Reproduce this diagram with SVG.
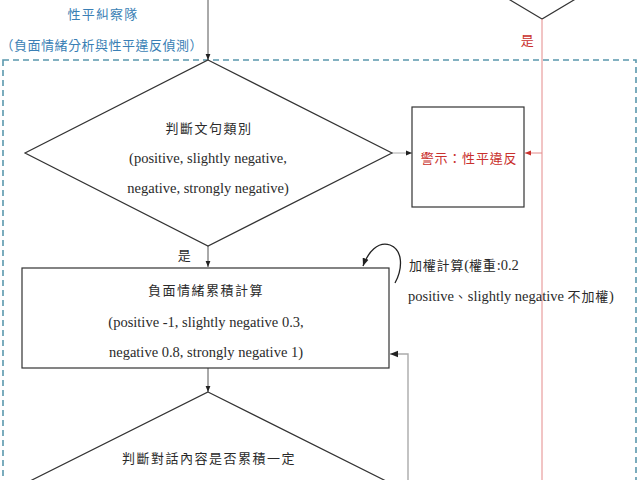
<svg xmlns="http://www.w3.org/2000/svg" width="640" height="480" viewBox="0 0 640 480">
<defs>
<style>
.t{font-family:"Liberation Serif","Noto Sans CJK TC",serif;fill:#2a2a2a;font-size:14.5px}
.c{font-family:"Liberation Serif","Noto Sans CJK TC",serif;fill:#2a2a2a;font-size:13px;letter-spacing:1.5px}
.blue{fill:#3a7fb5}
.red{fill:#c9302c}
.shape{fill:#fff;stroke:#333;stroke-width:1.2}
.conn{fill:none;stroke:#555;stroke-width:1}
</style>
<marker id="ah" viewBox="0 0 10 10" refX="10" refY="5" markerWidth="6" markerHeight="6" orient="auto"><path d="M0,1 L10,5 L0,9 z" fill="#222"/></marker>
<marker id="ahr" viewBox="0 0 10 10" refX="10" refY="5" markerWidth="6" markerHeight="6" orient="auto"><path d="M0,1 L10,5 L0,9 z" fill="#c9302c"/></marker>
</defs>
<rect x="0" y="0" width="640" height="480" fill="#fff"/>

<g id="title">
<text class="c blue" x="103" y="19" text-anchor="middle" style="letter-spacing:1.2px">性平糾察隊</text>
<text class="c blue" x="0.5" y="50" style="letter-spacing:0.5px">（負面情緒分析與性平違反偵測）</text>
</g>

<g id="container">
<rect x="3" y="60" width="633" height="440" fill="none" stroke="#5a98ad" stroke-width="1.6" stroke-dasharray="6,4"/>
</g>

<g id="decision-top">
<polygon class="shape" points="542,19 490,-12 594,-12 "/>
</g>

<g id="connectors">
<line class="conn" x1="208" y1="0" x2="208" y2="60" marker-end="url(#ah)"/>
<line x1="542" y1="19" x2="542" y2="480" stroke="#e48a8a" stroke-width="1"/>
<line x1="542" y1="153" x2="525" y2="153" stroke="#e48a8a" stroke-width="1" marker-end="url(#ahr)"/>
<line x1="392" y1="153" x2="412" y2="153" stroke="#aaa" stroke-width="1" marker-end="url(#ah)"/>
<line class="conn" x1="208" y1="246" x2="208" y2="267" marker-end="url(#ah)"/>
<line class="conn" x1="208" y1="368" x2="208" y2="392" marker-end="url(#ah)"/>
<polyline points="408,480 408,354 390,354" fill="none" stroke="#aaa" stroke-width="1.4" marker-end="url(#ah)"/>
<path d="M395,283 C403,268 403,250 390,245 C378,241 368,252 363,266" fill="none" stroke="#222" stroke-width="1.3" marker-end="url(#ah)"/>
<text class="c red" x="528" y="45" text-anchor="middle">是</text>
<text class="c" x="185" y="260" text-anchor="middle">是</text>
<text class="c" x="409" y="270" style="letter-spacing:0.8px">加權計算<tspan class="t" style="letter-spacing:0">(</tspan>權重<tspan class="t" style="letter-spacing:0">:0.2</tspan></text>
<text class="t" x="408" y="301">positive<tspan class="c" style="letter-spacing:0.8px">、</tspan>slightly negative <tspan class="c" style="letter-spacing:0.8px">不加權</tspan>)</text>
</g>

<g id="decision-1">
<polygon class="shape" points="208,60 392,153 208,246 25,153"/>
<text class="c" x="209" y="133" text-anchor="middle">判斷文句類別</text>
<text class="t" x="208" y="163" text-anchor="middle">(positive, slightly negative,</text>
<text class="t" x="208" y="193" text-anchor="middle">negative, strongly negative)</text>
</g>

<g id="alert">
<rect class="shape" x="412" y="107" width="112" height="100"/>
<text class="c red" x="469" y="163" text-anchor="middle" style="letter-spacing:0.8px">警示：性平違反</text>
</g>

<g id="accumulate">
<rect class="shape" x="22" y="268" width="367" height="100"/>
<text class="c" x="206" y="295" text-anchor="middle">負面情緒累積計算</text>
<text class="t" x="206" y="327" text-anchor="middle">(positive -1, slightly negative 0.3,</text>
<text class="t" x="206" y="357" text-anchor="middle">negative 0.8, strongly negative 1)</text>
</g>

<g id="decision-2">
<polygon class="shape" points="208,392 392,484 208,576 24,484"/>
<text class="c" x="209" y="463" text-anchor="middle">判斷對話內容是否累積一定</text>
</g>
</svg>
